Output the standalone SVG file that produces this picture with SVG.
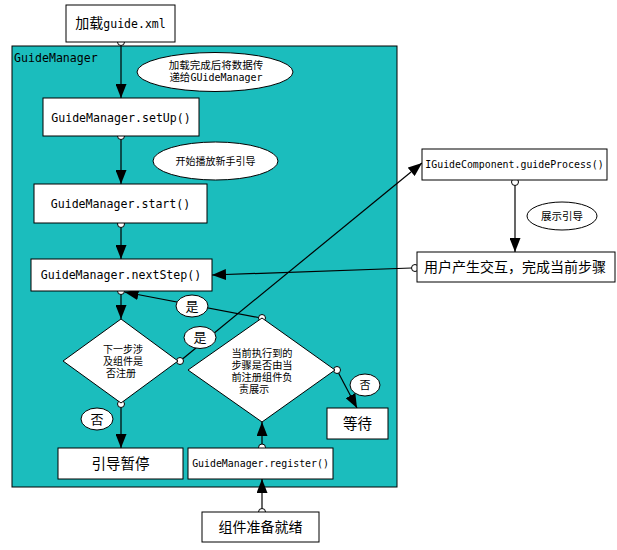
<svg xmlns="http://www.w3.org/2000/svg" width="617" height="550" viewBox="0 0 617 550">
<style>
.box{fill:#fff;stroke:#000;stroke-width:1}
.ell{fill:#fff;stroke:#000;stroke-width:1}
.mono{font-family:"DejaVu Sans Mono","Liberation Mono",monospace;fill:#000}
.cjk{font-family:"Noto Sans CJK SC","Noto Sans",sans-serif;fill:#000}
.ln{stroke:#000;stroke-width:1.2;fill:none}
.dot{fill:#fff;stroke:#000;stroke-width:1}
</style>
<defs>
<marker id="arr" viewBox="0 0 14 11" refX="14" refY="5.5" markerWidth="14" markerHeight="11" markerUnits="userSpaceOnUse" orient="auto">
<path d="M0,0 L14,5.5 L0,11 z" fill="#000"/>
</marker>
</defs>
<rect width="617" height="550" fill="#fff"/>

<g id="container">
<rect x="12" y="46" width="385" height="441" fill="#1BBDBD" stroke="#000" stroke-width="1"/>
<text class="mono" x="14" y="62" font-size="11.6">GuideManager</text>
</g>

<g id="connectors">
<line class="ln" x1="121" y1="45.5" x2="121" y2="98" marker-end="url(#arr)"/>
<line class="ln" x1="121" y1="139.5" x2="121" y2="184" marker-end="url(#arr)"/>
<line class="ln" x1="121" y1="227.5" x2="121" y2="259" marker-end="url(#arr)"/>
<line class="ln" x1="121" y1="294.5" x2="121" y2="319" marker-end="url(#arr)"/>
<line class="ln" x1="121" y1="407.5" x2="121" y2="448" marker-end="url(#arr)"/>
<line class="ln" x1="262" y1="444" x2="262" y2="422" marker-end="url(#arr)"/>
<line class="ln" x1="262" y1="508.5" x2="262" y2="479" marker-end="url(#arr)"/>
<line class="ln" x1="515" y1="185.5" x2="515" y2="252" marker-end="url(#arr)"/>
<line class="ln" x1="411.5" y1="268" x2="212" y2="275" marker-end="url(#arr)"/>
<line class="ln" x1="182.5" y1="359" x2="422" y2="163" stroke-width="1" marker-end="url(#arr)"/>
<line class="ln" x1="258.5" y1="317.5" x2="124.5" y2="292" stroke-width="1" marker-end="url(#arr)"/>
<line class="ln" x1="338.5" y1="373" x2="357" y2="408" stroke-width="1" marker-end="url(#arr)"/>
<circle class="dot" cx="121" cy="42" r="3.5"/>
<circle class="dot" cx="121" cy="136" r="3.5"/>
<circle class="dot" cx="121" cy="224" r="3.5"/>
<circle class="dot" cx="121" cy="291" r="3.5"/>
<circle class="dot" cx="121" cy="404" r="3.5"/>
<circle class="dot" cx="180" cy="361" r="3.5"/>
<circle class="dot" cx="262" cy="318" r="3.5"/>
<circle class="dot" cx="337" cy="370" r="3.5"/>
<circle class="dot" cx="262" cy="447.5" r="3.5"/>
<circle class="dot" cx="262" cy="512" r="3.5"/>
<circle class="dot" cx="515" cy="182" r="3.5"/>
<circle class="dot" cx="415" cy="268" r="3.5"/>
</g>

<g id="load">
<rect class="box" x="66" y="5" width="109" height="37"/>
<text x="120.5" y="28" text-anchor="middle"><tspan class="cjk" font-size="14">加载</tspan><tspan class="mono" font-size="11.5">guide.xml</tspan></text>
</g>

<g id="note1">
<ellipse class="ell" cx="215" cy="72" rx="78" ry="19.5"/>
<text class="cjk" font-size="10.5" x="216" y="69" text-anchor="middle">加载完成后将数据传</text>
<text x="216" y="81" text-anchor="middle"><tspan class="cjk" font-size="10.5">递给</tspan><tspan class="mono" font-size="10">GUideManager</tspan></text>
</g>

<g id="setup">
<rect class="box" x="43" y="98" width="156" height="38"/>
<text class="mono" font-size="11.6" x="121" y="122" text-anchor="middle">GuideManager.setUp()</text>
</g>

<g id="note2">
<ellipse class="ell" cx="215.5" cy="161" rx="62.5" ry="19"/>
<text class="cjk" font-size="10" x="215.5" y="164.5" text-anchor="middle">开始播放新手引导</text>
</g>

<g id="start">
<rect class="box" x="34" y="184" width="173" height="39"/>
<text class="mono" font-size="11.6" x="120.5" y="208" text-anchor="middle">GuideManager.start()</text>
</g>

<g id="nextstep">
<rect class="box" x="31" y="259" width="181" height="32"/>
<text class="mono" font-size="11.6" x="121" y="279" text-anchor="middle">GuideManager.nextStep()</text>
</g>

<g id="decision1">
<polygon class="box" points="121,319 178,361 121,403 63,361"/>
<text class="cjk" font-size="10" text-anchor="middle"><tspan x="123" y="353">下一步涉</tspan><tspan x="123" y="365">及组件是</tspan><tspan x="121" y="377">否注册</tspan></text>
</g>

<g id="decision2">
<polygon class="box" points="262,318 335,370 262,422 188,370"/>
<text class="cjk" font-size="10.2" text-anchor="middle"><tspan x="262" y="357">当前执行到的</tspan><tspan x="262" y="369">步骤是否由当</tspan><tspan x="262" y="381">前注册组件负</tspan><tspan x="254" y="393">责展示</tspan></text>
</g>

<g id="pause">
<rect class="box" x="58" y="448" width="125" height="31"/>
<text class="cjk" font-size="14.5" x="120.5" y="469" text-anchor="middle">引导暂停</text>
</g>

<g id="register">
<rect class="box" x="188" y="448" width="145" height="31"/>
<text class="mono" font-size="9.9" x="260.5" y="467" text-anchor="middle">GuideManager.register()</text>
</g>

<g id="wait">
<rect class="box" x="327" y="408" width="61" height="31"/>
<text class="cjk" font-size="14.5" x="357.5" y="429" text-anchor="middle">等待</text>
</g>

<g id="ready">
<rect class="box" x="202" y="512" width="117" height="30"/>
<text class="cjk" font-size="14" x="260.5" y="532" text-anchor="middle">组件准备就绪</text>
</g>

<g id="guideprocess">
<rect class="box" x="422" y="149" width="185" height="31"/>
<text class="mono" font-size="9.9" x="514.5" y="168" text-anchor="middle">IGuideComponent.guideProcess()</text>
</g>

<g id="note3">
<ellipse class="ell" cx="562" cy="216" rx="35" ry="14"/>
<text class="cjk" font-size="10.5" x="562" y="220" text-anchor="middle">展示引导</text>
</g>

<g id="interact">
<rect class="box" x="417" y="252" width="198" height="30"/>
<text class="cjk" font-size="14" x="515" y="272" text-anchor="middle">用户产生交互，完成当前步骤</text>
</g>

<g id="label-yes1">
<ellipse class="ell" cx="192" cy="306" rx="16" ry="11"/>
<text class="cjk" font-size="13" x="192" y="311" text-anchor="middle">是</text>
</g>
<g id="label-yes2">
<ellipse class="ell" cx="200" cy="337.5" rx="16" ry="11"/>
<text class="cjk" font-size="13" x="200" y="342" text-anchor="middle">是</text>
</g>
<g id="label-no1">
<ellipse class="ell" cx="97" cy="419" rx="16" ry="11"/>
<text class="cjk" font-size="13" x="97" y="424" text-anchor="middle">否</text>
</g>
<g id="label-no2">
<ellipse class="ell" cx="365" cy="385" rx="15" ry="11"/>
<text class="cjk" font-size="11" x="365" y="389" text-anchor="middle">否</text>
</g>
</svg>
